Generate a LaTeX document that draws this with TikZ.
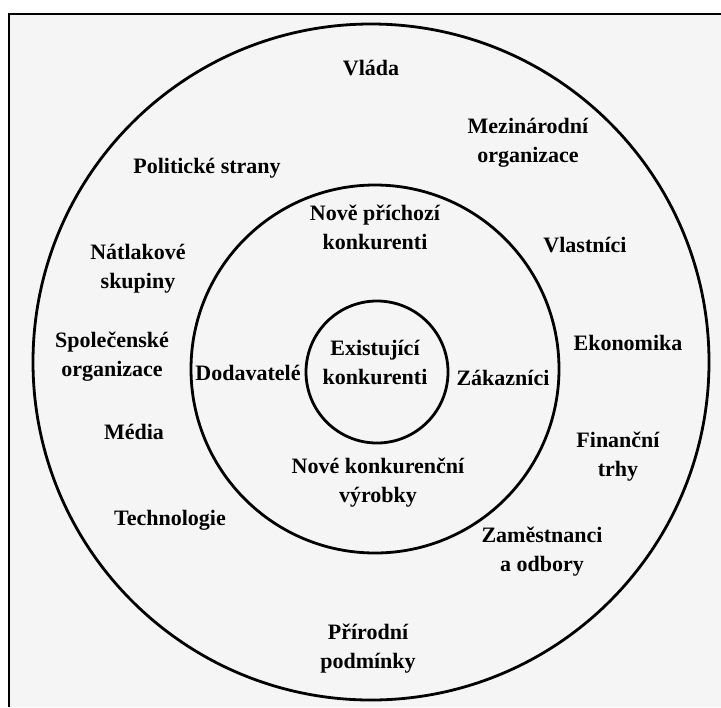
\documentclass[tikz,border=0pt]{standalone}
\usepackage{fontspec}
\setmainfont{Liberation Serif}

\begin{document}
\begin{tikzpicture}[x=0.5pt,y=-0.5pt,
    lbl/.style={align=center,font=\fontsize{11}{14.5}\selectfont\bfseries},
    ring/.style={line width=1.4pt}]
  \useasboundingbox (0,0) rectangle (721,707);
  \fill[black!4] (9,14) rectangle (721,707);
  \draw[line width=1pt] (9,707) -- (9,14) -- (721,14);

  % rings
  \coordinate (O) at (371,362);
  \draw[ring] (O) circle[radius=169pt];
  \draw[ring] (375,369) circle[radius=92pt];
  \draw[ring] (377,372) circle[radius=35.5pt];

  % outer ring
  \node[lbl] (V1) at (371,68) {Vláda};
  \node[lbl] (V2) at (207,168) {Politické strany};
  \node[lbl] (V3) at (528,143) {Mezinárodní\\organizace};
  \node[lbl] (V4) at (138,269) {Nátlakové\\skupiny};
  \node[lbl] (V5) at (585,245) {Vlastníci};
  \node[lbl] (V6) at (112,357) {Společenské\\organizace};
  \node[lbl] (V7) at (628,343) {Ekonomika};
  \node[lbl] (V8) at (134,432) {Média};
  \node[lbl] (V9) at (618,457) {Finanční\\trhy};
  \node[lbl] (V10) at (170,520) {Technologie};
  \node[lbl] (V11) at (542,552) {Zaměstnanci\\a odbory};
  \node[lbl] (V12) at (368,649) {Přírodní\\podmínky};

  % middle ring
  \node[lbl] (M1) at (375,227) {Nově příchozí\\konkurenti};
  \node[lbl] (M2) at (248,373) {Dodavatelé};
  \node[lbl] (M3) at (503,378) {Zákazníci};
  \node[lbl] (M4) at (378,483) {Nové konkurenční\\výrobky};

  % core
  \node[lbl] (K1) at (375,362) {Existující\\konkurenti};
\end{tikzpicture}
\end{document}
